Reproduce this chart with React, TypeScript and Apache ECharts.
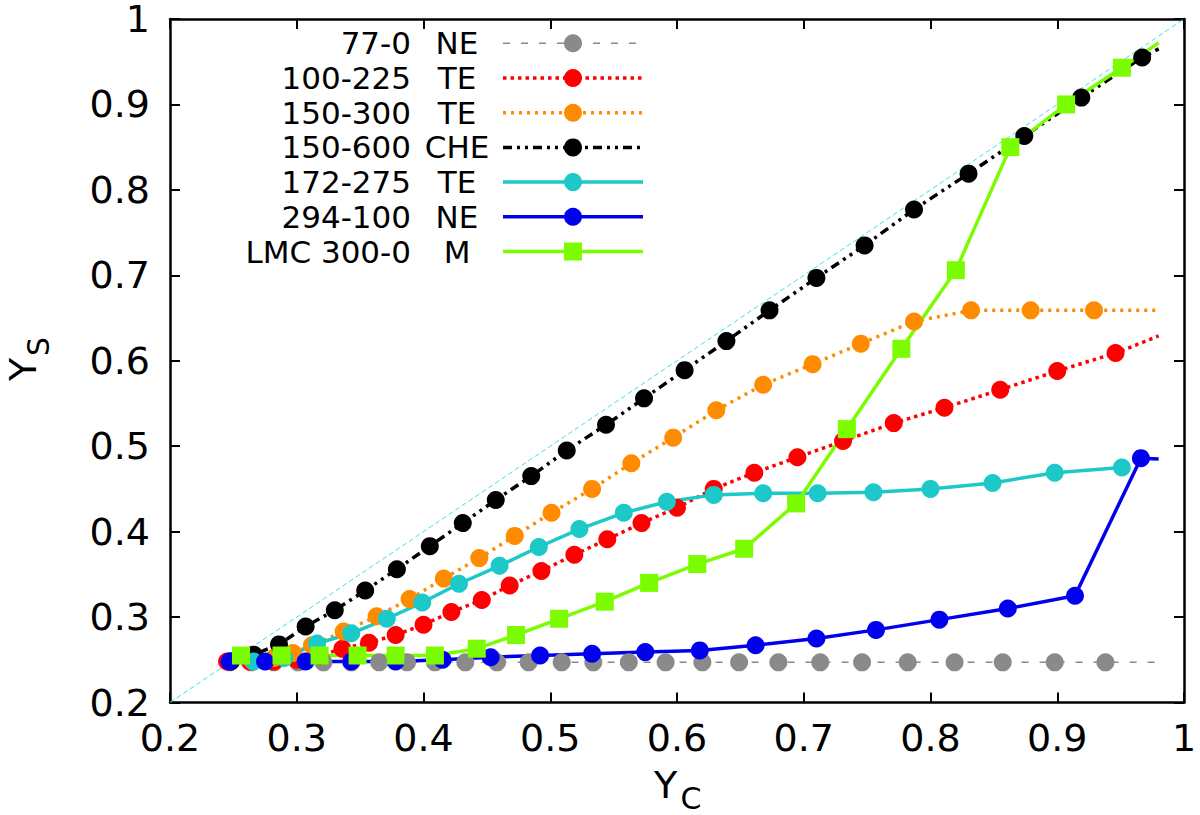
import React, { useEffect, useRef } from 'react';
import * as echarts from 'echarts';

const FONT = "'DejaVu Sans', sans-serif";

// [Y_C, Y_S] pairs; the *End points are line ends without a marker
const grayPts = [
  [0.247, 0.247], [0.264, 0.247], [0.282, 0.247], [0.301, 0.247], [0.321, 0.247], [0.343, 0.247],
  [0.365, 0.247], [0.387, 0.247], [0.409, 0.247], [0.433, 0.247], [0.458, 0.247], [0.483, 0.247],
  [0.509, 0.247], [0.534, 0.247], [0.562, 0.247], [0.591, 0.247], [0.62, 0.247], [0.649, 0.247],
  [0.68, 0.247], [0.713, 0.247], [0.746, 0.247], [0.782, 0.247], [0.819, 0.247], [0.857, 0.247],
  [0.898, 0.247], [0.938, 0.247],
];
const grayEnd = [0.98, 0.247];

const redPts = [
  [0.245, 0.248], [0.263, 0.248], [0.282, 0.248], [0.3, 0.25], [0.318, 0.255], [0.336, 0.263],
  [0.357, 0.27], [0.378, 0.279], [0.4, 0.291], [0.422, 0.306], [0.446, 0.32], [0.468, 0.337],
  [0.493, 0.354], [0.519, 0.373], [0.545, 0.391], [0.572, 0.41], [0.6, 0.428], [0.629, 0.45],
  [0.661, 0.469], [0.695, 0.487], [0.731, 0.506], [0.771, 0.527], [0.811, 0.545], [0.855, 0.566],
  [0.9, 0.588], [0.946, 0.609],
];
const redEnd = [0.98, 0.629];

const orangePts = [
  [0.248, 0.248], [0.265, 0.249], [0.282, 0.252], [0.297, 0.258], [0.312, 0.267], [0.337, 0.283],
  [0.363, 0.301], [0.389, 0.321], [0.416, 0.345], [0.444, 0.369], [0.472, 0.395], [0.501, 0.422],
  [0.533, 0.45], [0.564, 0.48], [0.597, 0.51], [0.631, 0.542], [0.668, 0.572], [0.707, 0.596],
  [0.745, 0.62], [0.787, 0.646], [0.832, 0.659], [0.879, 0.659], [0.929, 0.659],
];
const orangeEnd = [0.98, 0.659];

const blackPts = [
  [0.248, 0.248], [0.266, 0.256], [0.286, 0.268], [0.307, 0.289], [0.33, 0.308], [0.354, 0.331],
  [0.379, 0.356], [0.405, 0.383], [0.431, 0.41], [0.457, 0.437], [0.485, 0.465], [0.513, 0.495],
  [0.544, 0.525], [0.574, 0.556], [0.606, 0.589], [0.639, 0.623], [0.673, 0.659], [0.71, 0.697],
  [0.748, 0.735], [0.787, 0.777], [0.83, 0.819], [0.874, 0.863], [0.919, 0.908], [0.967, 0.955],
];
const blackEnd = [0.98, 0.965];

const cyanPts = [
  [0.266, 0.248], [0.29, 0.252], [0.316, 0.269], [0.343, 0.281], [0.371, 0.298], [0.399, 0.317],
  [0.428, 0.339], [0.46, 0.36], [0.491, 0.382], [0.523, 0.403], [0.558, 0.422], [0.592, 0.435],
  [0.629, 0.443], [0.668, 0.445], [0.711, 0.445], [0.755, 0.446], [0.8, 0.45], [0.849, 0.457],
  [0.898, 0.469], [0.951, 0.475],
];

const bluePts = [
  [0.247, 0.248], [0.275, 0.248], [0.307, 0.248], [0.343, 0.248], [0.378, 0.248], [0.415, 0.25],
  [0.453, 0.253], [0.492, 0.255], [0.533, 0.257], [0.575, 0.259], [0.618, 0.261], [0.662, 0.267],
  [0.71, 0.275], [0.757, 0.285], [0.807, 0.297], [0.861, 0.31], [0.914, 0.325], [0.966, 0.486],
];
const blueEnd = [0.98, 0.485];

const greenPts = [
  [0.256, 0.255], [0.288, 0.255], [0.318, 0.255], [0.348, 0.255], [0.378, 0.255], [0.409, 0.255],
  [0.442, 0.263], [0.473, 0.279], [0.507, 0.298], [0.543, 0.318], [0.578, 0.34], [0.616, 0.362],
  [0.653, 0.38], [0.694, 0.433], [0.734, 0.52], [0.777, 0.614], [0.82, 0.706], [0.863, 0.85],
  [0.907, 0.9], [0.951, 0.943],
];
const greenEnd = [0.98, 0.972];

const diagonal = [[0.2, 0.2], [1, 1]];

const legendLeft = ['77-0', '100-225', '150-300', '150-600', '172-275', '294-100', 'LMC 300-0'];
const legendRight = ['NE', 'TE', 'TE', 'CHE', 'TE', 'NE', 'M'];

const STYLES = [
  { pts: grayPts, end: grayEnd, color: '#8a8a8a', width: 1.5, dash: [7, 11], symbol: 'circle' },
  { pts: redPts, end: redEnd, color: '#ff0000', width: 3.5, dash: [3.5, 4], symbol: 'circle' },
  { pts: orangePts, end: orangeEnd, color: '#ff8c00', width: 3.5, dash: [3, 5], symbol: 'circle' },
  { pts: blackPts, end: blackEnd, color: '#000000', width: 3.5, dash: [9, 5, 3, 5, 3, 5], symbol: 'circle' },
  { pts: cyanPts, end: null, color: '#1cc8c8', width: 3.5, dash: null, symbol: 'circle' },
  { pts: bluePts, end: blueEnd, color: '#0000ee', width: 3.5, dash: null, symbol: 'circle' },
  { pts: greenPts, end: greenEnd, color: '#7cfc00', width: 3.5, dash: null, symbol: 'rect' },
];

const MARK = 18;

const App: React.FC = () => {
  const ref = useRef<HTMLDivElement>(null);

  useEffect(() => {
    document.body.style.margin = '0';
    if (!ref.current) return;
    const chart = echarts.init(ref.current, null, { renderer: 'svg' });

    const axisCommon = {
      type: 'value' as const,
      min: 0.2,
      max: 1,
      interval: 0.1,
      splitLine: { show: false },
      axisLine: { show: true, onZero: false, lineStyle: { color: '#000', width: 2.5 } },
      axisTick: { show: true, inside: true, length: 10, lineStyle: { color: '#000', width: 2 } },
    };
    const labelStyle = { color: '#000', fontSize: 38, lineHeight: 30, fontFamily: FONT };

    const series: any[] = [
      {
        type: 'line',
        data: diagonal,
        symbol: 'none',
        silent: true,
        lineStyle: { color: '#3fe0ea', width: 1, type: [5, 3] },
      },
      ...STYLES.map((s, i) => ({
        name: legendLeft[i] + ' ' + legendRight[i],
        type: 'line',
        data: [...s.pts, ...(s.end ? [{ value: s.end, symbol: 'none' }] : [])],
        symbol: s.symbol,
        symbolSize: MARK,
        showAllSymbol: true,
        itemStyle: { color: s.color, borderWidth: 0 },
        lineStyle: { color: s.color, width: s.width, type: s.dash || 'solid', cap: 'butt' },
        emphasis: { disabled: true },
      })),
    ];

    // gnuplot-style key: text on the left, sample line + marker on the right
    const keyRows: any[] = [];
    STYLES.forEach((s, i) => {
      const y = 43.3 + i * 34.7;
      keyRows.push(
        {
          type: 'text',
          x: 411,
          y,
          style: {
            text: legendLeft[i], fill: '#000', fontSize: 31, fontFamily: FONT,
            align: 'right', verticalAlign: 'middle', textAlign: 'right', textVerticalAlign: 'middle',
          },
        },
        {
          type: 'text',
          x: 457,
          y,
          style: {
            text: legendRight[i], fill: '#000', fontSize: 31, fontFamily: FONT,
            align: 'center', verticalAlign: 'middle', textAlign: 'center', textVerticalAlign: 'middle',
          },
        },
        {
          type: 'line',
          shape: { x1: 503, y1: y, x2: 643, y2: y },
          style: { stroke: s.color, lineWidth: s.width, lineDash: s.dash || null },
        },
        s.symbol === 'rect'
          ? {
              type: 'rect',
              shape: { x: 573 - MARK / 2, y: y - MARK / 2, width: MARK, height: MARK },
              style: { fill: s.color },
            }
          : {
              type: 'circle',
              shape: { cx: 573, cy: y, r: MARK / 2 },
              style: { fill: s.color },
            }
      );
    });

    const txt = (text: string, x: number, y: number, size: number) => ({
      type: 'text',
      x,
      y,
      style: {
        text, fill: '#000', fontSize: size, lineHeight: Math.round(size * 0.8), fontFamily: FONT,
        align: 'center', verticalAlign: 'middle', textAlign: 'center', textVerticalAlign: 'middle',
      },
    });

    chart.setOption({
      animation: false,
      backgroundColor: '#fff',
      grid: { left: 170, right: 16, top: 16, bottom: 112.5, containLabel: false },
      xAxis: [
        { ...axisCommon, position: 'bottom', axisLabel: { ...labelStyle, margin: 20 } },
        { ...axisCommon, position: 'top', axisLabel: { show: false } },
      ],
      yAxis: [
        { ...axisCommon, position: 'left', axisLabel: { ...labelStyle, margin: 20 } },
        { ...axisCommon, position: 'right', axisLabel: { show: false } },
      ],
      series,
      graphic: [
        ...keyRows,
        txt('Y', 665.5, 785, 38),
        txt('C', 691, 798.5, 30),
        {
          type: 'group',
          x: 23,
          y: 369.5,
          rotation: Math.PI / 2,
          children: [txt('Y', 0, 0, 38), txt('S', 23, 15.5, 30)],
        },
      ],
    });

    return () => chart.dispose();
  }, []);

  return <div ref={ref} style={{ width: 1200, height: 815 }} />;
};

export default App;
